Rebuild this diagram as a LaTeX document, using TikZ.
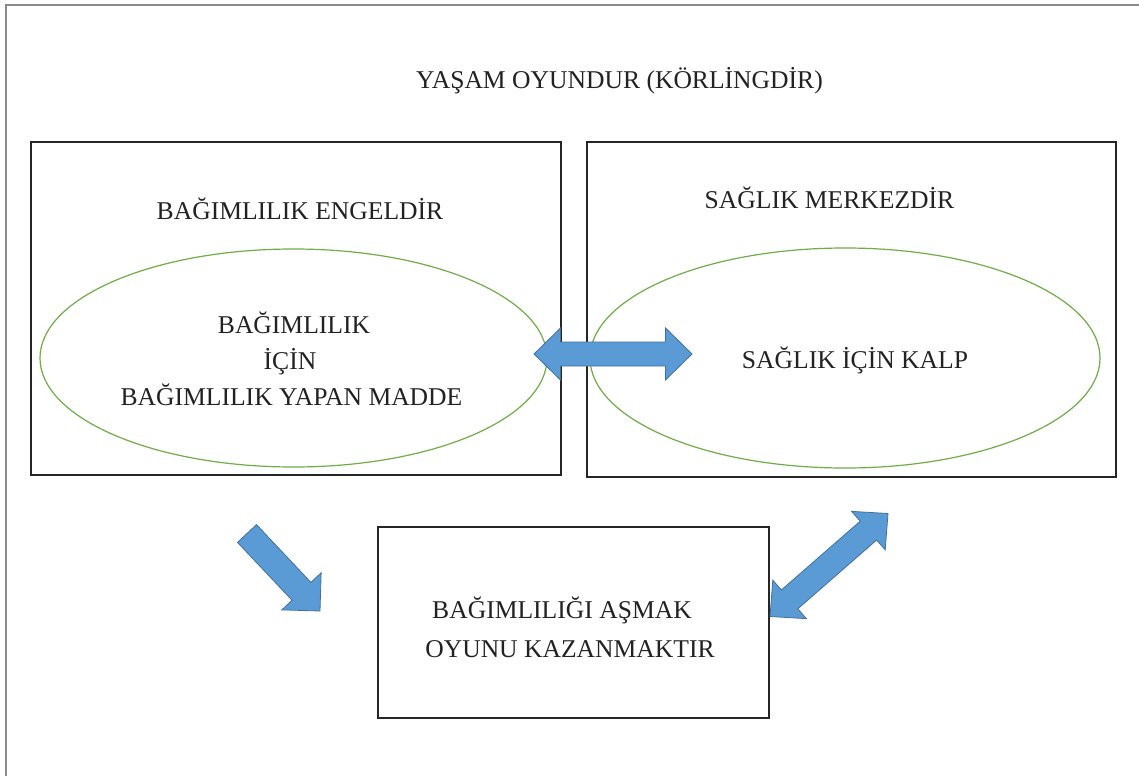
\documentclass[tikz,border=0pt]{standalone}
\usepackage{fontspec}
\setmainfont{Liberation Serif}
\usetikzlibrary{calc,shapes.geometric}
\definecolor{arrowfill}{HTML}{5B9BD5}
\definecolor{arrowline}{HTML}{41719C}
\definecolor{ellgreen}{HTML}{70AD47}
\definecolor{framegray}{HTML}{8A8A8A}
\definecolor{txt}{HTML}{222222}
\tikzset{
  panel/.style={draw=black!85, line width=1.6pt, inner sep=0pt},
  oval/.style={ellipse, draw=ellgreen, line width=1.2pt, inner sep=0pt},
  label/.style={anchor=base, text=txt, font=\fontsize{25.6}{30}\selectfont, inner sep=0pt},
  blockarrow/.style={fill=arrowfill, draw=arrowline, line width=0.8pt, line join=miter},
}
% single block arrow: #1 tail, #2 tip, #3 head length, #4 shaft half width, #5 head half width
\newcommand{\singleblockarrow}[5]{%
  \path ($(#2)!#3!(#1)$) coordinate (hb);
  \draw[blockarrow] ($(#1)!#4!90:(#2)$) -- ($(hb)!#4!90:(#2)$) -- ($(hb)!#5!90:(#2)$) -- (#2)
    -- ($(hb)!#5!-90:(#2)$) -- ($(hb)!#4!-90:(#2)$) -- ($(#1)!#4!-90:(#2)$) -- cycle;}
% double block arrow between tips #1 and #2
\newcommand{\doubleblockarrow}[5]{%
  \path ($(#1)!#3!(#2)$) coordinate (ha) ($(#2)!#3!(#1)$) coordinate (hb);
  \draw[blockarrow] (#1) -- ($(ha)!#5!90:(#2)$) -- ($(ha)!#4!90:(#2)$) -- ($(hb)!#4!90:(#2)$)
    -- ($(hb)!#5!90:(#2)$) -- (#2) -- ($(hb)!#5!-90:(#2)$) -- ($(hb)!#4!-90:(#2)$)
    -- ($(ha)!#4!-90:(#2)$) -- ($(ha)!#5!-90:(#2)$) -- cycle;}
\begin{document}
\begin{tikzpicture}[x=1pt, y=-1pt]
\useasboundingbox (0,0) rectangle (1139,776);
\fill[white] (0,0) rectangle (1139,776);
% outer frame (left and top edges)
\draw[framegray, line width=1.6pt] (6,776) -- (6,5) -- (1139,5);

% title
\node[label] (title) at (619.5,88) {YAŞAM OYUNDUR (KÖRLİNGDİR)};

% boxes
\node[panel, minimum width=530pt, minimum height=333pt] (leftbox) at (296,308.5) {};
\node[panel, minimum width=529pt, minimum height=335pt] (rightbox) at (851.5,309.5) {};
\node[panel, minimum width=391pt, minimum height=191pt] (bottombox) at (573.5,622.5) {};

% ellipses
\node[oval, minimum width=507pt, minimum height=218pt] (leftoval) at (293.5,358) {};
\node[oval, minimum width=510pt, minimum height=220pt] (rightoval) at (845,358) {};

% texts
\node[label] (lefthead) at (300,219) {BAĞIMLILIK ENGELDİR};
\node[label] (righthead) at (829.5,208) {SAĞLIK MERKEZDİR};
\node[label] (l1) at (294,333) {BAĞIMLILIK};
\node[label] (l2) at (290,369) {İÇİN};
\node[label] (l3) at (291.5,405) {BAĞIMLILIK YAPAN MADDE};
\node[label] (r1) at (855,368) {SAĞLIK İÇİN KALP};
\node[label] (b1) at (562,618) {BAĞIMLILIĞI AŞMAK};
\node[label] (b2) at (570,657) {OYUNU KAZANMAKTIR};

% arrows
\coordinate (htipL) at (534,354);
\coordinate (htipR) at (692,354);
\doubleblockarrow{htipL}{htipR}{26.5pt}{12pt}{26pt}

\coordinate (dtail) at (247,533.5);
\coordinate (dtip) at (320,611);
\singleblockarrow{dtail}{dtip}{27pt}{13pt}{27pt}

\coordinate (ddA) at (770,616.5);
\coordinate (ddB) at (888,513.5);
\doubleblockarrow{ddA}{ddB}{26pt}{12.5pt}{25.5pt}
\end{tikzpicture}
\end{document}
